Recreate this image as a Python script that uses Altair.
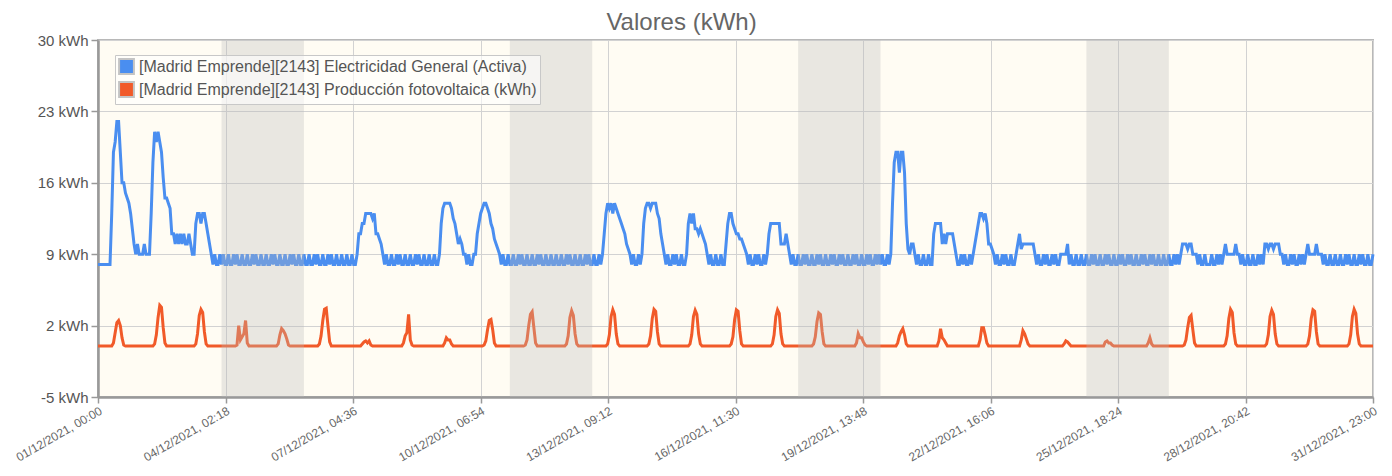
import altair as alt
import pandas as pd

# ---------------- data ----------------
SERIES = [
    "[Madrid Emprende][2143] Electricidad General (Activa)",
    "[Madrid Emprende][2143] Producción fotovoltaica (kWh)",
]
COLORS = ["#4a8ef0", "#f15a29"]

# hourly consumption, one list of 24 values per day (01/12 .. 31/12)
ELEC = [
    [8,8,8,8,8,8,8,8,13,19,20,22,22,19,16,16,15,14.5,14,13,11.5,10,9,10],
    [9,9,9,10,9,9,9,13,18,21,20,21,20,19,16.5,14.5,14.5,14,13.5,11,11,10,11,10],
    [11,10,11,10,10,11,10,9,9,12,13,13,12,13,13,12,11,10,9,8,9,8,8,9],
    [8,9,8,8,9,8,8,9,8,9,8,8,9,8,8,9,8,8,9,8,9,8,8,9],
    [8,8,9,8,8,9,8,9,8,8,9,8,8,9,8,8,9,8,9,8,8,9,8,8],
    [9,8,8,9,8,8,9,8,9,8,8,9,8,8,9,8,9,8,8,9,8,8,9,8],
    [8,9,8,8,9,8,8,9,11,11,12,12,13,13,13,13,12.5,13,11,11,10.5,10,9,8],
    [9,8,8,9,8,8,9,8,9,8,8,9,8,8,9,8,8,9,8,9,8,8,9,8],
    [8,9,8,8,9,8,8,9,12,13.5,14,14,14,14,13.5,12.5,12,11,10,10.5,10,9,9,8],
    [9,8,8,9,9,11,12,13,13.5,14,14,13.5,13,12,11.5,10.5,10,9.5,9,8,9,8,8,9],
    [8,8,9,8,8,9,8,9,8,8,9,8,8,9,8,8,9,8,9,8,8,9,8,8],
    [9,8,8,9,8,8,9,8,8,9,8,9,8,8,9,8,8,9,8,8,9,8,9,8],
    [8,9,8,8,9,8,9,11,13,14,13.5,14,13,14,13.5,13,12.5,12,11.5,11,10,9.5,9,8],
    [9,8,8,9,8,9,12,13.5,14,14,13.5,14,14,14,13,12.5,11,10,9,8,9,8,8,9],
    [8,9,8,8,9,8,8,9,12,13,12,13,11.5,11.5,11,11.5,11,10.5,10,9,8,9,8,8],
    [9,8,8,9,8,8,10,12,13,13,12,11.5,11,11,10.5,10.5,10,9.5,9,8,9,8,8,9],
    [8,9,8,8,9,8,9,11,12,12,12,12,12,12,10,10,10,11,10,9,8,9,8,8],
    [9,8,8,9,8,9,8,8,9,8,8,9,8,9,8,8,9,8,8,9,8,9,8,8],
    [9,8,9,8,8,9,8,8,9,8,9,8,8,9,8,8,9,8,9,8,8,9,8,9],
    [8,9,8,8,9,8,9,14,18,19,19,17,19,19,17,12,9.5,9,10,10,9,8,9,8],
    [8,9,8,8,9,8,8,11,12,12,12,12,10,11,10,11,11,11,11,10,9,8,8,9],
    [8,9,8,8,9,8,9,10,11,12,13,13,12.5,13,12,10,10,9.5,9,8,9,8,8,9],
    [8,9,8,8,9,8,8,9,10,11,9.5,10,10,10,10,10,10,10,9,8,9,8,8,9],
    [8,9,8,8,9,8,9,8,8,9,9,9,9,10,8,9,8,8,9,8,8,9,8,8],
    [9,8,8,9,8,9,8,8,9,8,8,9,8,9,8,8,9,8,8,9,8,9,8,8],
    [9,8,9,8,8,9,8,8,9,8,9,8,8,9,8,9,8,8,9,8,8,9,8,8],
    [9,8,8,9,8,9,8,9,10,10,10,9.5,10,10,9,9,9,8,9,8,8,9,8,8],
    [8,9,8,8,9,8,9,8,9,10,9,9,9,9,9,10,9,9,8,9,8,8,9,8],
    [8,9,8,8,9,8,9,8,10,10,9.5,10,10,9.5,10,10,10,9,9,8,9,8,8,9],
    [8,9,8,8,9,8,9,8,9,10,9,9,9,9,10,9,9,9,8,9,8,8,9,8],
    [8,9,8,8,9,8,8,9,8,9,8,8,9,8,8,9,8,9,8,8,9,8,8,9],
]

# photovoltaic production: readings for hours 08..16 of each day (0 at night)
PV_DAY = [
    [0,0.3,1.3,2.3,2.5,2.0,0.8,0.1,0],
    [0,0.2,1.1,2.8,4.0,3.8,1.8,0.3,0],
    [0,0.2,1.2,3.0,3.6,3.3,1.4,0.2,0],
    [0,0.1,2.0,0.6,0.9,1.2,2.5,0.3,0],
    [0,0.2,1.1,1.7,1.5,1.2,0.7,0.1,0],
    [0,0.2,1.0,2.5,3.6,3.7,2.0,0.4,0],
    [0,0,0.2,0.4,0.5,0.3,0.5,0.1,0],
    [0,0,0.3,1.0,1.3,3.1,0.6,0.1,0],
    [0,0,0.3,0.8,0.6,0.6,0.2,0,0],
    [0,0.1,0.5,1.6,2.5,2.6,1.6,0.3,0],
    [0,0.1,0.6,2.0,3.1,3.35,1.8,0.3,0],
    [0,0.2,1.0,2.8,3.45,3.0,1.2,0.2,0],
    [0,0.2,1.1,2.9,3.55,3.1,1.2,0.2,0],
    [0,0.2,1.0,2.7,3.6,3.4,1.4,0.2,0],
    [0,0.2,1.1,2.9,3.5,3.1,1.2,0.2,0],
    [0,0.2,0.9,2.6,3.55,3.4,1.5,0.2,0],
    [0,0.2,1.1,2.9,3.55,3.2,1.2,0.2,0],
    [0,0.2,0.9,2.4,3.25,3.1,1.4,0.2,0],
    [0,0,0.3,1.2,0.8,0.8,0.4,0.1,0],
    [0,0,0.3,1.0,1.4,1.7,1.1,0.2,0],
    [0,0,0.5,1.7,0.8,0.6,0.3,0,0],
    [0,0,0.6,1.8,1.8,1.1,0.3,0,0],
    [0,0,0.6,1.5,1.2,0.7,0.2,0,0],
    [0,0,0,0.2,0.5,0.4,0.2,0,0],
    [0,0,0,0.4,0.5,0.3,0.3,0.1,0],
    [0,0,0,0,0.3,0.8,0.2,0,0],
    [0,0.1,0.6,1.8,2.8,3.0,1.6,0.3,0],
    [0,0.2,1.0,2.7,3.6,3.3,1.3,0.2,0],
    [0,0.2,1.1,2.9,3.5,3.1,1.2,0.2,0],
    [0,0.2,1.0,2.7,3.55,3.4,1.4,0.2,0],
    [0,0.2,1.1,2.9,3.6,3.2,1.2,0.2,0],
]
PV_FIRST_HOUR = 8

# weekend bands (Saturday 00:00 -> Monday 00:00)
WEEKEND_START = ["2021-12-04", "2021-12-11", "2021-12-18", "2021-12-25"]
WEEKEND_END = ["2021-12-06", "2021-12-13", "2021-12-20", "2021-12-27"]

Y_TICKS = [-5, 2, 9, 16, 23, 30]

# ---------------- build tables ----------------
HOUR = 3600 * 1000
T0 = int(pd.Timestamp("2021-12-01T00:00:00Z").value // 10**6)
T_END = int(pd.Timestamp("2021-12-31T23:00:00Z").value // 10**6)

rows = []
for d, day in enumerate(ELEC):
    for h, v in enumerate(day):
        rows.append({"t": T0 + (d * 24 + h) * HOUR, "v": v, "serie": SERIES[0]})
for d, day in enumerate(PV_DAY):
    for h in range(24):
        k = h - PV_FIRST_HOUR
        v = day[k] if 0 <= k < len(day) else 0
        rows.append({"t": T0 + (d * 24 + h) * HOUR, "v": v, "serie": SERIES[1]})
df = pd.DataFrame(rows)

bands = pd.DataFrame({
    "t": [int(pd.Timestamp(s + "T00:00:00Z").value // 10**6) for s in WEEKEND_START],
    "e": [int(pd.Timestamp(e + "T00:00:00Z").value // 10**6) for e in WEEKEND_END],
})

# 10 equal divisions of the time range for x ticks
x_ticks = [T0 + (T_END - T0) * i / 10 for i in range(11)]

W, H = 1275, 357
FONT = "Liberation Sans"

xscale = alt.Scale(type="utc", domain=[T0, T_END], nice=False)
yscale = alt.Scale(domain=[-5, 30], nice=False, zero=False)
cscale = alt.Scale(domain=SERIES, range=COLORS)

x_axis = alt.Axis(values=x_ticks,
                  labelExpr="utcFormat(datum.value, '%d/%m/%Y, %H:%M')",
                  labelAngle=-30, labelAlign="right", labelBaseline="top",
                  labelFontSize=12, labelColor="#666", labelFont=FONT,
                  labelPadding=2, tickSize=6, tickColor="#999", tickWidth=1.5,
                  domainColor="#999", domainWidth=2.5, grid=True,
                  gridColor="#d2d2d2", gridWidth=1, labelOverlap=False,
                  labelBound=False, labelFlush=False)
y_axis = alt.Axis(values=Y_TICKS, labelExpr="datum.value + ' kWh'",
                  labelFontSize=15, labelColor="#555", labelFont=FONT,
                  labelPadding=3, tickSize=7, tickColor="#999", tickWidth=1.5,
                  domainColor="#999", domainWidth=2.5, grid=True,
                  gridColor="#d2d2d2", gridWidth=1)

x_enc = alt.X("t:T", scale=xscale, title=None, axis=x_axis)
y_enc = alt.Y("v:Q", scale=yscale, title=None, axis=y_axis)

lines = alt.Chart(df).mark_line(strokeWidth=3, interpolate="linear").encode(
    x=x_enc, y=y_enc,
    color=alt.Color("serie:N", scale=cscale, legend=None),
)

# legend only (no marks drawn): filled squares like the reference
legend_layer = alt.Chart(df).transform_filter("datum.v < -100").mark_square(filled=True).encode(
    x=x_enc, y=y_enc,
    color=alt.Color("serie:N", scale=cscale,
                    legend=alt.Legend(title=None, orient="none", legendX=17, legendY=15,
                                      symbolType="square", symbolSize=220,
                                      symbolStrokeColor="#c4c4c4", symbolStrokeWidth=2,
                                      symbolOpacity=1,
                                      labelFontSize=16, labelColor="#555", labelFont=FONT,
                                      labelLimit=800, labelOffset=4, rowPadding=0,
                                      padding=3, fillColor="rgba(255,255,255,0.6)",
                                      strokeColor="#c8c8c8")),
)

weekend = alt.Chart(bands).mark_rect(fill="#bababa", opacity=0.32).encode(
    x=x_enc,
    x2="e:T",
    y=alt.value(0),
    y2=alt.value(H),
)

chart = alt.layer(lines, weekend, legend_layer).resolve_legend(color="independent").properties(
    width=W, height=H,
    title=alt.TitleParams("Valores (kWh)", fontSize=24, font=FONT, fontWeight="normal",
                          color="#666", anchor="middle", dx=-54, offset=-2),
    autosize=alt.AutoSizeParams(type="none"),
    padding={"left": 90, "top": 32, "right": 8, "bottom": 71},
    background="white",
).configure_view(fill="#fffcf3", stroke="#b8b8b8", strokeWidth=2)

chart.save("out.html", embed_options={"renderer": "svg", "actions": False})
